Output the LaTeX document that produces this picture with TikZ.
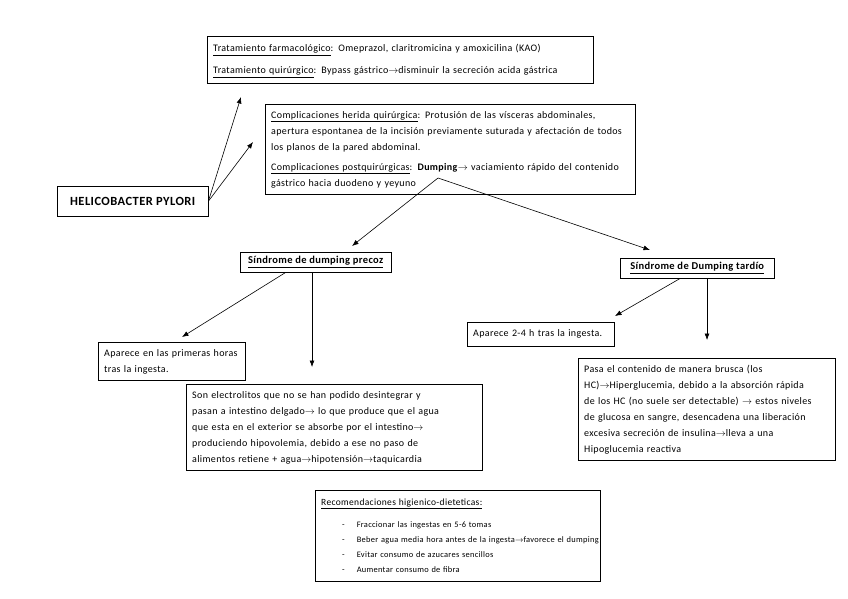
\documentclass[tikz,border=0pt]{standalone}
\usepackage{fontspec}
\setmainfont{Carlito}[LetterSpace=3.5]
\usetikzlibrary{arrows.meta,positioning,calc}

\tikzset{
  caja/.style={draw, thin, anchor=north west, align=left, inner xsep=6pt, inner ysep=3pt,
    font=\fontsize{10}{16}\selectfont},
  titulo/.style={caja, align=center, font=\fontsize{10.5}{12}\selectfont\bfseries},
  flecha/.style={-{Latex[length=6.5pt,width=5pt]}, line width=0.6pt},
}
\newcommand{\fl}{$\rightarrow$}
\newcommand{\lineas}[1]{\begin{tabular}{@{}l@{}}#1\end{tabular}}
\newcommand{\guion}[1]{\hspace*{21pt}-\hspace*{12pt}#1}

\begin{document}
\begin{tikzpicture}[x=1pt,y=-1pt]
\useasboundingbox (0,0) rectangle (848,599);

% cajas
\node[caja, text width=374pt, minimum height=47pt] (tratam) at (207,36)
  {\lineas{\underline{Tratamiento farmacológico}: Omeprazol, claritromicina y amoxicilina (KAO)\\[6pt]
   \underline{Tratamiento quirúrgico}: Bypass gástrico\fl disminuir la secreción acida gástrica}};
\node[caja, text width=358pt, minimum height=90pt] (complic) at (265,104)
  {\lineas{\underline{Complicaciones herida quirúrgica}: Protusión de las vísceras abdominales,\\
   apertura espontanea de la incisión previamente suturada y afectación de todos\\
   los planos de la pared abdominal.\\[4pt]
   \underline{Complicaciones postquirúrgicas}: \textbf{Dumping}\fl{} vaciamiento rápido del contenido\\
   gástrico hacia duodeno y yeyuno}};
\node[caja, font=\fontsize{12.5}{14}\selectfont\bfseries, minimum width=151pt, minimum height=30pt,
  align=center] (helico) at (57,186) {HELICOBACTER PYLORI};
\node[titulo, minimum width=151pt, minimum height=20pt] (precoz) at (240,252)
  {\underline{Síndrome de dumping precoz}};
\node[titulo, minimum width=154pt, minimum height=20pt] (tardio) at (620,258)
  {\underline{Síndrome de Dumping tardío}};
\node[caja, text width=135pt, minimum height=35pt] (primeras) at (98,342)
  {\lineas{Aparece en las primeras horas\\ tras la ingesta.}};
\node[caja, text width=135pt, minimum height=24pt] (horas) at (467,322)
  {Aparece 2-4 h tras la ingesta.};
\node[caja, text width=284pt, minimum height=83pt] (electro) at (186,384)
  {\lineas{Son electrolitos que no se han podido desintegrar y\\
   pasan a intestino delgado\fl{} lo que produce que el agua\\
   que esta en el exterior se absorbe por el intestino\fl\\
   produciendo hipovolemia, debido a ese no paso de\\
   alimentos retiene + agua\fl hipotensión\fl taquicardia}};
\node[caja, text width=245pt, minimum height=98pt] (hipoglu) at (578,358)
  {\lineas{Pasa el contenido de manera brusca (los\\
   HC)\fl Hiperglucemia, debido a la absorción rápida\\
   de los HC (no suele ser detectable) \fl{} estos niveles\\
   de glucosa en sangre, desencadena una liberación\\
   excesiva secreción de insulina\fl lleva a una\\
   Hipoglucemia reactiva}};
\node[caja, text width=273pt, minimum height=91pt, font=\fontsize{8.4}{14.7}\selectfont] (recomend) at (315,490)
  {\lineas{{\fontsize{9.5}{14.7}\selectfont\underline{Recomendaciones higienico-dieteticas:}}\\[8pt]
   \guion{Fraccionar las ingestas en 5-6 tomas}\\
   \guion{Beber agua media hora antes de la ingesta\fl favorece el dumping}\\
   \guion{Evitar consumo de azucares sencillos}\\
   \guion{Aumentar consumo de fibra}}};

% puntas de flecha
\coordinate (aTrat) at (241,97);
\coordinate (aComp) at (253,142);
\coordinate (dumping) at (438,178);
\coordinate (aPrecoz) at (352,246);
\coordinate (aTardio) at (650,250);
\coordinate (aPrim) at (182,337);
\coordinate (aElec) at (312,367);
\coordinate (aHoras) at (615,316);
\coordinate (aHipo) at (707,340);

% conectores
\draw[flecha] (helico.east) -- (aTrat);
\draw[flecha] (helico.east) -- (aComp);
\draw[flecha] (dumping) -- (aPrecoz);
\draw[flecha] (dumping) -- (aTardio);
\draw[flecha] ([xshift=-30pt]precoz.south) -- (aPrim);
\draw[flecha] (precoz.south -| aElec) -- (aElec);
\draw[flecha] ([xshift=-17pt]tardio.south) -- (aHoras);
\draw[flecha] (tardio.south -| aHipo) -- (aHipo);
\end{tikzpicture}
\end{document}
